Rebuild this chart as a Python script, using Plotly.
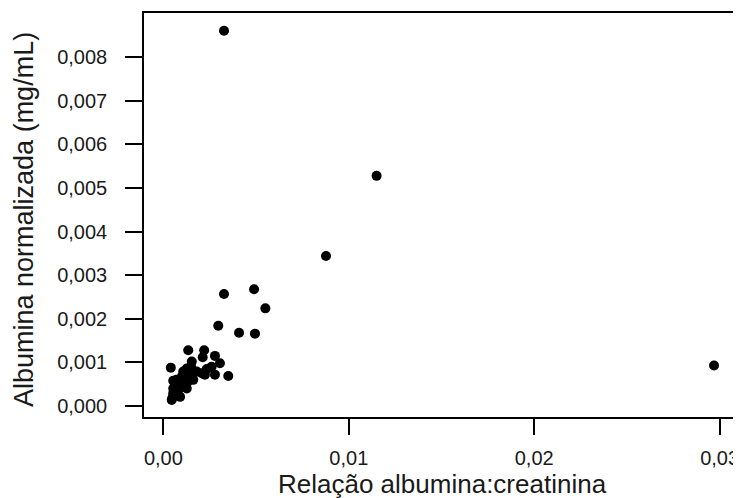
import plotly.graph_objects as go

# Relação albumina:creatinina (x) vs Albumina normalizada mg/mL (y)
relacao_alb_creat = [
    0.00327, 0.0115, 0.00877, 0.0297, 0.00327, 0.00489, 0.0055, 0.00296,
    0.00408, 0.00494, 0.0035,
    0.00134, 0.00220, 0.00212, 0.00278, 0.00305, 0.00260, 0.00153, 0.00126,
    0.00234, 0.00224, 0.00278, 0.00207, 0.00040, 0.00053, 0.00063, 0.00090,
    0.00107, 0.00107, 0.00143, 0.00161, 0.00180, 0.00080, 0.00053, 0.00053,
    0.00050, 0.00045, 0.00090, 0.00126, 0.00126, 0.00099, 0.00143, 0.00161,
    0.00070, 0.00150,
]
albumina_normalizada = [
    0.00861, 0.00528, 0.00344, 0.00093, 0.00257, 0.00268, 0.00224, 0.00184,
    0.00168, 0.00166, 0.00069,
    0.00128, 0.00128, 0.00112, 0.00115, 0.00098, 0.00090, 0.00102, 0.00086,
    0.00085, 0.00072, 0.00072, 0.00075, 0.00088, 0.00058, 0.00050, 0.00048,
    0.00070, 0.00079, 0.00060, 0.00075, 0.00079, 0.00037, 0.00040, 0.00029,
    0.00020, 0.00014, 0.00021, 0.00040, 0.00052, 0.00067, 0.00067, 0.00060,
    0.00060, 0.00090,
]

x_ticks = [0.0, 0.01, 0.02, 0.03]
x_tick_labels = ["0,00", "0,01", "0,02", "0,03"]
y_ticks = [0.000, 0.001, 0.002, 0.003, 0.004, 0.005, 0.006, 0.007, 0.008]
y_tick_labels = ["0,000", "0,001", "0,002", "0,003", "0,004",
                 "0,005", "0,006", "0,007", "0,008"]
x_title = "Relação albumina:creatinina"
y_title = "Albumina normalizada (mg/mL)"

fig = go.Figure(go.Scatter(
    x=relacao_alb_creat, y=albumina_normalizada, mode="markers",
    marker=dict(color="black", size=10, line=dict(width=0)),
))

# the page body adds an 8 px margin, so the figure is sized to fit the window
OFF = 8
W, H = 741 - OFF, 498 - OFF
L, R, T, B = 144 - OFF, 1, 13 - OFF, H - (417 - OFF)
pw, ph = W - L - R, H - T - B

font = "Arial, Liberation Sans, sans-serif"
fig.update_layout(
    width=W, height=H,
    margin=dict(l=L, r=R, t=T, b=B),
    paper_bgcolor="white", plot_bgcolor="white",
    showlegend=False,
    font=dict(family=font, color="#1a1a1a"),
)
fig.update_xaxes(
    range=[-0.001046, 0.0311], automargin=False,
    tickvals=x_ticks, ticktext=x_tick_labels,
    ticks="outside", ticklen=16, tickwidth=1.5, tickcolor="black",
    tickfont=dict(size=20),
    showline=True, linecolor="black", linewidth=1.5, mirror=True,
    showgrid=False, zeroline=False,
    ticklabelstandoff=6,
)
fig.update_yaxes(
    range=[-0.000252, 0.009016], automargin=False,
    tickvals=y_ticks, ticktext=y_tick_labels,
    ticks="outside", ticklen=17, tickwidth=1.5, tickcolor="black",
    tickfont=dict(size=20),
    showline=True, linecolor="black", linewidth=1.5, mirror=True,
    showgrid=False, zeroline=False,
    ticklabelstandoff=14,
)

# axis titles placed at their pixel spots (page pixels minus body offset)
fig.add_annotation(
    text=x_title, xref="paper", yref="paper",
    x=(442 - OFF - L) / pw, y=(H - B - (467 - OFF)) / ph,
    xanchor="center", yanchor="top", showarrow=False,
    font=dict(size=26, family=font, color="#1a1a1a"),
)
fig.add_annotation(
    text=y_title, xref="paper", yref="paper", textangle=-90,
    x=(24 - OFF - L) / pw, y=(H - B - (220 - OFF)) / ph,
    xanchor="center", yanchor="middle", showarrow=False,
    font=dict(size=27, family=font, color="#1a1a1a"),
)

fig.write_html("out.html")
